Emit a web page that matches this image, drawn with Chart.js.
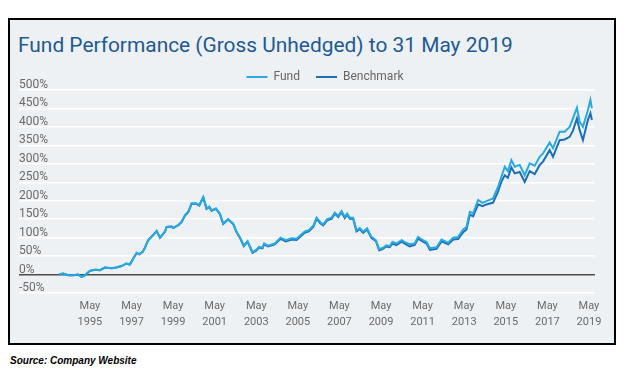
<!DOCTYPE html>
<html>
<head>
<meta charset="utf-8">
<script src="https://cdn.jsdelivr.net/npm/chart.js@4.4.1/dist/chart.umd.min.js"></script>
<style>
body{margin:0;background:#fff;font-family:Roboto,sans-serif;}
#box{position:absolute;left:8px;top:18px;width:604px;height:323px;border:2px solid #000;background:#edf1f4;}
#title{position:absolute;left:8px;top:13px;font-size:20.9px;color:#1f5a91;white-space:nowrap;}
#wrap{position:absolute;left:0;top:35px;width:604px;height:288px;}
#source{position:absolute;left:10px;top:355px;font:italic bold 10px "Liberation Sans",sans-serif;color:#000;}
</style>
</head>
<body>

<div id="box">
<div id="title">Fund Performance (Gross Unhedged) to 31 May 2019</div>
<div id="wrap"><canvas id="perfChart"></canvas></div>
</div>
<div id="source">Source: Company Website</div>

<script>

// decimal years of each reading
const years=[1993.89,1994.08,1994.33,1994.57,1994.81,1994.97,1995.13,1995.37,1995.61,1995.85,
1996.09,1996.41,1996.65,1996.89,1997.13,1997.29,1997.45,1997.62,1997.74,1997.90,
1998.01,1998.17,1998.41,1998.58,1998.74,1998.98,1999.06,1999.30,1999.37,1999.62,
1999.78,1999.94,2000.10,2000.26,2000.47,2000.63,2000.82,2000.98,2001.11,2001.22,
2001.43,2001.62,2001.78,2002.02,2002.26,2002.42,2002.61,2002.77,2002.95,2003.19,
2003.35,2003.51,2003.67,2003.75,2003.94,2004.26,2004.54,2004.79,2005.07,2005.31,
2005.55,2005.71,2005.90,2006.11,2006.27,2006.46,2006.59,2006.78,2006.99,2007.15,
2007.31,2007.47,2007.63,2007.74,2007.87,2008.03,2008.19,2008.35,2008.51,2008.70,
2008.91,2009.12,2009.28,2009.44,2009.63,2009.79,2009.92,2010.11,2010.36,2010.51,
2010.75,2010.99,2011.15,2011.39,2011.56,2011.72,2012.04,2012.28,2012.60,2012.84,
2013.08,2013.32,2013.48,2013.64,2013.80,2014.04,2014.25,2014.44,2014.76,2015.00,
2015.16,2015.32,2015.47,2015.64,2015.80,2016.04,2016.28,2016.52,2016.76,2017.00,
2017.16,2017.48,2017.64,2017.96,2018.20,2018.44,2018.60,2018.79,2018.92,2019.08,
2019.32,2019.44,2019.51];

const fund=[0,3,-2,-2,0,-6,-2,10,13,12,19,17,19,23,30,27,43,59,55,61,
72,93,107,118,100,116,129,130,126,134,
143,161,170,193,193,188,210,179,184,174,
179,165,138,150,138,116,98,78,90,61,
66,75,73,84,78,84,100,93,98,97,
109,117,120,132,154,141,136,150,154,168,
159,172,156,165,154,154,120,126,116,125,
102,93,69,72,79,77,88,84,93,88,
82,84,102,93,88,71,74,95,86,100,
102,122,129,170,166,202,194,199,206,238,
265,292,280,310,292,297,269,301,295,319,
328,358,342,387,387,400,423,452,414,400,
446,473,450];

const benchmark=[0,3,-2,-2,0,-6,-2,10,13,12,19,17,19,23,30,27,43,59,55,61,
72,93,107,118,100,116,129,130,126,134,
142,160,169,192,192,187,209,178,183,173,
178,164,137,149,137,115,97,77,89,59,
64,73,71,82,76,82,97,90,95,94,
106,114,117,129,151,138,133,147,151,165,
156,169,153,162,151,151,117,123,113,122,
99,91,66,69,76,74,84,80,89,84,
76,80,97,89,84,67,70,90,82,95,
96,115,122,162,158,190,185,190,195,225,
252,269,262,290,274,278,251,280,272,297,
306,337,319,364,366,373,390,423,392,364,
419,437,419];

const tickYears=[1995,1997,1999,2001,2003,2005,2007,2009,2011,2013,2015,2017,2019];
const tickMonth="May";

function points(values){
return values.map((v,i)=>({x:years[i],y:v}));
}

// the legend sits a little right of centre in the original
const legendShift={
id:"legendShift",
afterLayout(chart){
chart.legend.left+=18;
chart.legend.right+=18;
}
};

const ctx=document.getElementById("perfChart").getContext("2d");

new Chart(ctx,{

type:"line",

data:{

datasets:[{
label:"Fund",
data:points(fund),
borderColor:"#29a9e1",
backgroundColor:"#29a9e1",
borderWidth:2,
pointRadius:0,
tension:0
},{
label:"Benchmark",
data:points(benchmark),
borderColor:"#1a6fb5",
backgroundColor:"#1a6fb5",
borderWidth:2,
pointRadius:0,
tension:0
}]

},

plugins:[legendShift],

options:{

responsive:true,
maintainAspectRatio:false,
animation:false,

layout:{
padding:{left:9,right:19,top:0,bottom:0}
},

plugins:{
legend:{
maxHeight:35,
labels:{
usePointStyle:true,
pointStyle:"line",
pointStyleWidth:21,
color:"#666",
font:{family:"Roboto",size:12},
padding:16
}
},
tooltip:{enabled:false}
},

scales:{

x:{
type:"linear",
min:1991.96,
max:2019.66,
afterBuildTicks:(scale)=>{
scale.ticks=tickYears.map(y=>({value:y+0.37}));
},
afterFit:(scale)=>{
scale.height=50;
},
ticks:{
color:"#6b6b6b",
font:{family:"Roboto",size:11,lineHeight:1.45},
padding:5,
maxRotation:0,
autoSkip:false,
callback:(v)=>[tickMonth,String(Math.round(v-0.37))]
},
grid:{display:false,drawTicks:false},
border:{display:false}
},

y:{
min:-50,
max:500,
ticks:{
stepSize:50,
mirror:true,
padding:0,
labelOffset:-5,
color:"#6b6b6b",
font:{family:"Roboto",size:12},
callback:(v)=>v+"%"
},
grid:{
drawTicks:false,
lineWidth:(c)=>c.tick&&c.tick.value===0?1.6:1.5,
color:(c)=>c.tick&&c.tick.value===0?"#4d4d4d":"#ffffff"
},
border:{display:false}
}

}

}

});

</script>
</body>
</html>
